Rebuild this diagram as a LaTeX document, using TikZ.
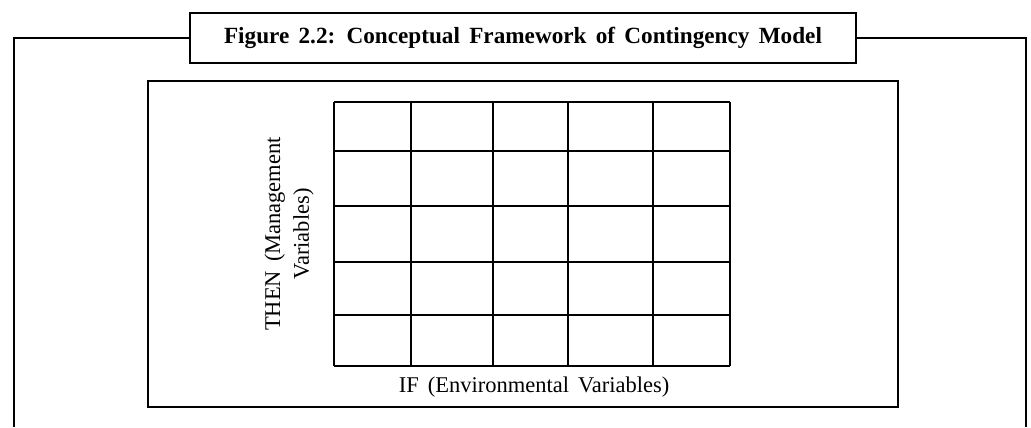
\documentclass[tikz,border=0pt]{standalone}
\usepackage{fontspec}
\setmainfont[WordSpace=1.6]{Liberation Serif}
\begin{document}
\begin{tikzpicture}[x=0.025cm,y=-0.025cm,line width=1.6pt,
  label/.style={font=\fontsize{16}{20.5}\selectfont,align=center},
  titlebox/.style={draw,font=\bfseries\fontsize{16.5}{19}\selectfont,minimum width=16.65cm,minimum height=1.25cm,inner sep=0pt}]
\useasboundingbox (0,0) rectangle (1031,427);
\node [titlebox] (title) at (523,38) {Figure 2.2: Conceptual Framework of Contingency Model};
\coordinate (left) at (14,427);
\coordinate (right) at (1026,427);
\draw (title.west) -| (left);
\draw (title.east) -| (right);

\draw (148,81) rectangle (898,407);
\foreach \x in {334,411,493,568,653,730}
  \draw (\x,102) -- (\x,366);
\foreach \y in {102,151,206,262,315,366}
  \draw (334,\y) -- (730,\y);

\node [label] (ifvar) at (534,387) {IF (Environmental Variables)};
\node [label,rotate=90] (thenvar) at (289,234) {THEN (Management\\Variables)};
\end{tikzpicture}
\end{document}
